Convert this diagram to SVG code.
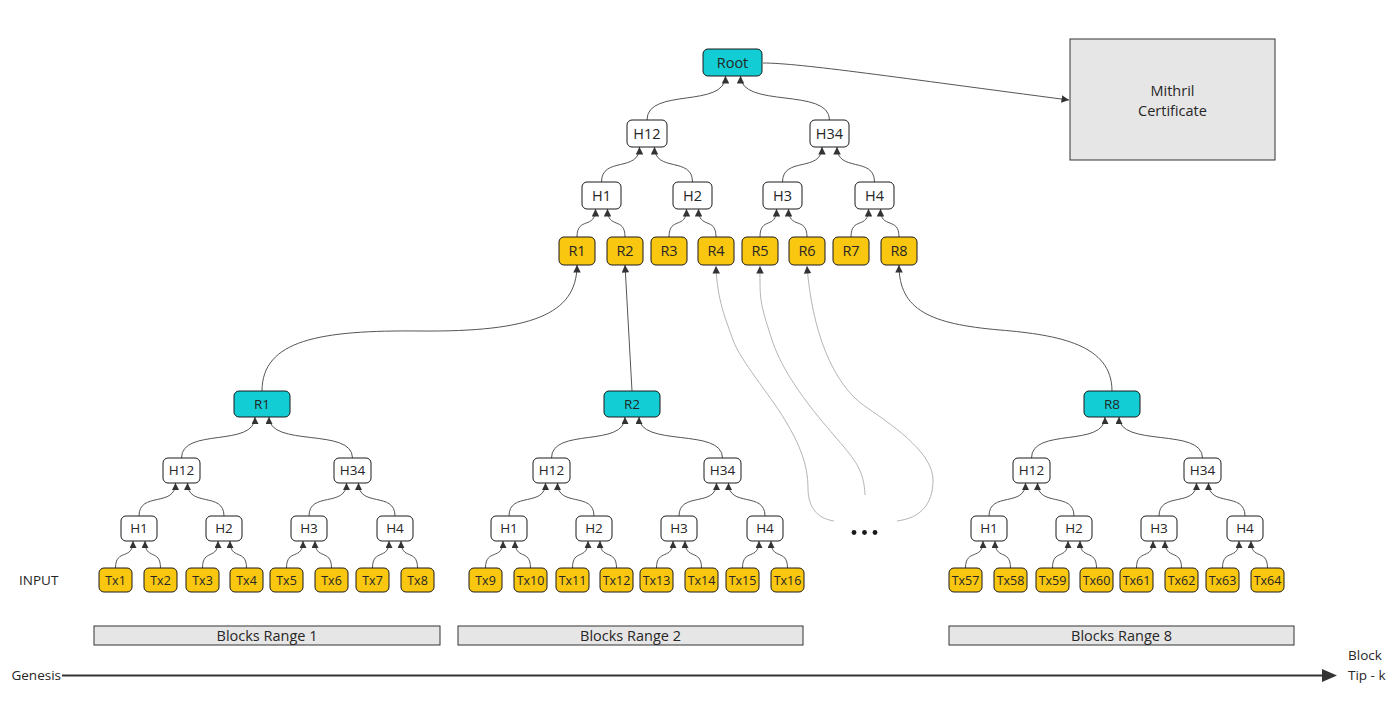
<svg xmlns="http://www.w3.org/2000/svg" width="1395" height="716" viewBox="0 0 1395 716">
<defs>
<style>
.cy{fill:#12CDD4;stroke:#1a1a1a;stroke-width:1}
.yl{fill:#FAC710;stroke:#1a1a1a;stroke-width:1}
.wh{fill:#ffffff;stroke:#1a1a1a;stroke-width:1}
.gr{fill:#e6e6e6;stroke:#333;stroke-width:1}
text{font-family:"Open Sans","Liberation Sans",sans-serif;fill:#262626}
.t14{font-size:14.5px;text-anchor:middle}
.t13{font-size:13.5px;text-anchor:middle}
.t12{font-size:12.5px;text-anchor:middle}
.tb{font-size:14.5px;text-anchor:middle}
.lb{font-size:13.5px}
.c{fill:none;stroke:#555;stroke-width:1;marker-end:url(#ah)}
.cs{fill:none;stroke:#555;stroke-width:1;marker-end:url(#ahs)}
.cg{fill:none;stroke:#b5b5b5;stroke-width:1;marker-end:url(#ah)}
</style>
<marker id="ah" viewBox="0 0 10 10" refX="10" refY="5" markerWidth="8" markerHeight="7.5" markerUnits="userSpaceOnUse" orient="auto"><path d="M0,0 L10,5 L0,10 z" fill="#333"/></marker>
<marker id="ahs" viewBox="0 0 10 10" refX="10" refY="5" markerWidth="7.5" markerHeight="7" markerUnits="userSpaceOnUse" orient="auto"><path d="M0,0 L10,5 L0,10 z" fill="#333"/></marker>
</defs>
<rect width="1395" height="716" fill="#ffffff"/>

<g id="connectors">
<!-- top tree -->
<path class="c" d="M647,120 C647,87 725.5,109 725.5,76"/>
<path class="c" d="M829.5,120 C829.5,87 740.5,109 740.5,76"/>
<path class="c" d="M601.5,182 C601.5,156 639.5,173 639.5,147"/>
<path class="c" d="M692.5,182 C692.5,156 654.5,173 654.5,147"/>
<path class="c" d="M782.5,182 C782.5,156 822,173 822,147"/>
<path class="c" d="M874.5,182 C874.5,156 837,173 837,147"/>
<path class="c" d="M577,237 C577,216 595.5,230 595.5,209"/>
<path class="c" d="M625,237 C625,216 607.5,230 607.5,209"/>
<path class="c" d="M669,237 C669,216 686.5,230 686.5,209"/>
<path class="c" d="M716,237 C716,216 698.5,230 698.5,209"/>
<path class="c" d="M760,237 C760,216 776.5,230 776.5,209"/>
<path class="c" d="M807,237 C807,216 788.5,230 788.5,209"/>
<path class="c" d="M851,237 C851,216 868.5,230 868.5,209"/>
<path class="c" d="M899,237 C899,216 880.5,230 880.5,209"/>
<path class="c" d="M763,63 C800,63 900,78 1069,100"/>
<!-- cross connectors -->
<path class="c" d="M262,391 C262,340 320,330 420,331 C530,332 577,315 577,265"/>
<path class="c" d="M632,391 L625,265"/>
<path class="c" d="M1112,391 C1112,345 1060,335 1000,330 C930,324 899,310 899,265"/>
<path class="cg" d="M834,521 C815,518 808,505 808,488 C808,465 800,445 785,420 S740,360 733,340 S717,300 716,266"/>
<path class="cg" d="M865,495 C864,470 855,460 838,440 S785,380 772,340 S760,300 760,266"/>
<path class="cg" d="M897,521 C920,518 933,505 933,480 S900,430 866,407 S812,330 807,266"/>
<!-- tree 1 -->
<path class="cs" d="M181.5,458 C181.5,427 255,448 255,417"/>
<path class="cs" d="M352.5,458 C352.5,427 269,448 269,417"/>
<path class="cs" d="M139,516 C139,491 175.5,508 175.5,483"/>
<path class="cs" d="M224,516 C224,491 187.5,508 187.5,483"/>
<path class="cs" d="M309,516 C309,491 346.5,508 346.5,483"/>
<path class="cs" d="M395,516 C395,491 358.5,508 358.5,483"/>
<path class="cs" d="M115.5,568 C115.5,548 133,561 133,541"/>
<path class="cs" d="M160.5,568 C160.5,548 145,561 145,541"/>
<path class="cs" d="M202.5,568 C202.5,548 218,561 218,541"/>
<path class="cs" d="M246.5,568 C246.5,548 230,561 230,541"/>
<path class="cs" d="M286.5,568 C286.5,548 303,561 303,541"/>
<path class="cs" d="M331.5,568 C331.5,548 315,561 315,541"/>
<path class="cs" d="M372.5,568 C372.5,548 389,561 389,541"/>
<path class="cs" d="M417.5,568 C417.5,548 401,561 401,541"/>
<!-- tree 2 -->
<path class="cs" d="M551.5,458 C551.5,427 625,448 625,417"/>
<path class="cs" d="M722.5,458 C722.5,427 639,448 639,417"/>
<path class="cs" d="M509,516 C509,491 545.5,508 545.5,483"/>
<path class="cs" d="M594,516 C594,491 557.5,508 557.5,483"/>
<path class="cs" d="M679,516 C679,491 716.5,508 716.5,483"/>
<path class="cs" d="M765,516 C765,491 728.5,508 728.5,483"/>
<path class="cs" d="M485.5,568 C485.5,548 503,561 503,541"/>
<path class="cs" d="M530.5,568 C530.5,548 515,561 515,541"/>
<path class="cs" d="M572.5,568 C572.5,548 588,561 588,541"/>
<path class="cs" d="M616.5,568 C616.5,548 600,561 600,541"/>
<path class="cs" d="M656.5,568 C656.5,548 673,561 673,541"/>
<path class="cs" d="M701.5,568 C701.5,548 685,561 685,541"/>
<path class="cs" d="M742.5,568 C742.5,548 759,561 759,541"/>
<path class="cs" d="M787.5,568 C787.5,548 771,561 771,541"/>
<!-- tree 3 -->
<path class="cs" d="M1031.5,458 C1031.5,427 1105,448 1105,417"/>
<path class="cs" d="M1202.5,458 C1202.5,427 1119,448 1119,417"/>
<path class="cs" d="M989,516 C989,491 1025.5,508 1025.5,483"/>
<path class="cs" d="M1074,516 C1074,491 1037.5,508 1037.5,483"/>
<path class="cs" d="M1159,516 C1159,491 1196.5,508 1196.5,483"/>
<path class="cs" d="M1245,516 C1245,491 1208.5,508 1208.5,483"/>
<path class="cs" d="M965.5,568 C965.5,548 983,561 983,541"/>
<path class="cs" d="M1010.5,568 C1010.5,548 995,561 995,541"/>
<path class="cs" d="M1052.5,568 C1052.5,548 1068,561 1068,541"/>
<path class="cs" d="M1096.5,568 C1096.5,548 1080,561 1080,541"/>
<path class="cs" d="M1136.5,568 C1136.5,548 1153,561 1153,541"/>
<path class="cs" d="M1181.5,568 C1181.5,548 1165,561 1165,541"/>
<path class="cs" d="M1222.5,568 C1222.5,548 1239,561 1239,541"/>
<path class="cs" d="M1267.5,568 C1267.5,548 1251,561 1251,541"/>
<!-- timeline -->
<line x1="62" y1="675.5" x2="1324" y2="675.5" stroke="#333" stroke-width="2"/>
<path d="M1322,669 L1337,675.5 L1322,682 z" fill="#333"/>
</g>

<!-- top tree -->
<g id="root"><rect class="cy" x="703" y="49" width="59" height="27" rx="5"/><text class="t14" x="732.5" y="67.5">Root</text></g>
<g id="mithril"><rect class="gr" x="1070" y="39" width="205" height="121"/><text class="t14" x="1172.5" y="96">Mithril</text><text class="t14" x="1172.5" y="116">Certificate</text></g>
<g id="top-h12"><rect class="wh" x="627" y="120" width="40" height="27" rx="5"/><text class="t14" x="647" y="138.5">H12</text></g>
<g id="top-h34"><rect class="wh" x="810" y="120" width="39" height="27" rx="5"/><text class="t14" x="829.5" y="138.5">H34</text></g>
<g id="top-h1"><rect class="wh" x="582" y="182" width="39" height="27" rx="5"/><text class="t14" x="601.5" y="200.5">H1</text></g>
<g id="top-h2"><rect class="wh" x="673" y="182" width="39" height="27" rx="5"/><text class="t14" x="692.5" y="200.5">H2</text></g>
<g id="top-h3"><rect class="wh" x="763" y="182" width="39" height="27" rx="5"/><text class="t14" x="782.5" y="200.5">H3</text></g>
<g id="top-h4"><rect class="wh" x="855" y="182" width="39" height="27" rx="5"/><text class="t14" x="874.5" y="200.5">H4</text></g>
<g id="top-r1"><rect class="yl" x="559" y="237" width="36" height="28" rx="5"/><text class="t14" x="577" y="256">R1</text></g>
<g id="top-r2"><rect class="yl" x="607" y="237" width="36" height="28" rx="5"/><text class="t14" x="625" y="256">R2</text></g>
<g id="top-r3"><rect class="yl" x="651" y="237" width="36" height="28" rx="5"/><text class="t14" x="669" y="256">R3</text></g>
<g id="top-r4"><rect class="yl" x="698" y="237" width="36" height="28" rx="5"/><text class="t14" x="716" y="256">R4</text></g>
<g id="top-r5"><rect class="yl" x="742" y="237" width="36" height="28" rx="5"/><text class="t14" x="760" y="256">R5</text></g>
<g id="top-r6"><rect class="yl" x="789" y="237" width="36" height="28" rx="5"/><text class="t14" x="807" y="256">R6</text></g>
<g id="top-r7"><rect class="yl" x="833" y="237" width="36" height="28" rx="5"/><text class="t14" x="851" y="256">R7</text></g>
<g id="top-r8"><rect class="yl" x="881" y="237" width="36" height="28" rx="5"/><text class="t14" x="899" y="256">R8</text></g>

<!-- tree 1 -->
<g id="t1-r1"><rect class="cy" x="234" y="391" width="56" height="26" rx="5"/><text class="t13" x="262" y="408.5">R1</text></g>
<g id="t1-h12"><rect class="wh" x="163" y="458" width="37" height="25" rx="5"/><text class="t13" x="181.5" y="475">H12</text></g>
<g id="t1-h34"><rect class="wh" x="334" y="458" width="37" height="25" rx="5"/><text class="t13" x="352.5" y="475">H34</text></g>
<g id="t1-h1"><rect class="wh" x="121" y="516" width="36" height="25" rx="5"/><text class="t13" x="139" y="533">H1</text></g>
<g id="t1-h2"><rect class="wh" x="206" y="516" width="36" height="25" rx="5"/><text class="t13" x="224" y="533">H2</text></g>
<g id="t1-h3"><rect class="wh" x="291" y="516" width="36" height="25" rx="5"/><text class="t13" x="309" y="533">H3</text></g>
<g id="t1-h4"><rect class="wh" x="377" y="516" width="36" height="25" rx="5"/><text class="t13" x="395" y="533">H4</text></g>
<g id="tx1"><rect class="yl" x="99" y="568" width="33" height="24" rx="5"/><text class="t12" x="115.5" y="584.5">Tx1</text></g>
<g id="tx2"><rect class="yl" x="144" y="568" width="33" height="24" rx="5"/><text class="t12" x="160.5" y="584.5">Tx2</text></g>
<g id="tx3"><rect class="yl" x="186" y="568" width="33" height="24" rx="5"/><text class="t12" x="202.5" y="584.5">Tx3</text></g>
<g id="tx4"><rect class="yl" x="230" y="568" width="33" height="24" rx="5"/><text class="t12" x="246.5" y="584.5">Tx4</text></g>
<g id="tx5"><rect class="yl" x="270" y="568" width="33" height="24" rx="5"/><text class="t12" x="286.5" y="584.5">Tx5</text></g>
<g id="tx6"><rect class="yl" x="315" y="568" width="33" height="24" rx="5"/><text class="t12" x="331.5" y="584.5">Tx6</text></g>
<g id="tx7"><rect class="yl" x="356" y="568" width="33" height="24" rx="5"/><text class="t12" x="372.5" y="584.5">Tx7</text></g>
<g id="tx8"><rect class="yl" x="401" y="568" width="33" height="24" rx="5"/><text class="t12" x="417.5" y="584.5">Tx8</text></g>

<!-- tree 2 -->
<g id="t2-r2"><rect class="cy" x="604" y="391" width="56" height="26" rx="5"/><text class="t13" x="632" y="408.5">R2</text></g>
<g id="t2-h12"><rect class="wh" x="533" y="458" width="37" height="25" rx="5"/><text class="t13" x="551.5" y="475">H12</text></g>
<g id="t2-h34"><rect class="wh" x="704" y="458" width="37" height="25" rx="5"/><text class="t13" x="722.5" y="475">H34</text></g>
<g id="t2-h1"><rect class="wh" x="491" y="516" width="36" height="25" rx="5"/><text class="t13" x="509" y="533">H1</text></g>
<g id="t2-h2"><rect class="wh" x="576" y="516" width="36" height="25" rx="5"/><text class="t13" x="594" y="533">H2</text></g>
<g id="t2-h3"><rect class="wh" x="661" y="516" width="36" height="25" rx="5"/><text class="t13" x="679" y="533">H3</text></g>
<g id="t2-h4"><rect class="wh" x="747" y="516" width="36" height="25" rx="5"/><text class="t13" x="765" y="533">H4</text></g>
<g id="tx9"><rect class="yl" x="469" y="568" width="33" height="24" rx="5"/><text class="t12" x="485.5" y="584.5">Tx9</text></g>
<g id="tx10"><rect class="yl" x="514" y="568" width="33" height="24" rx="5"/><text class="t12" x="530.5" y="584.5">Tx10</text></g>
<g id="tx11"><rect class="yl" x="556" y="568" width="33" height="24" rx="5"/><text class="t12" x="572.5" y="584.5">Tx11</text></g>
<g id="tx12"><rect class="yl" x="600" y="568" width="33" height="24" rx="5"/><text class="t12" x="616.5" y="584.5">Tx12</text></g>
<g id="tx13"><rect class="yl" x="640" y="568" width="33" height="24" rx="5"/><text class="t12" x="656.5" y="584.5">Tx13</text></g>
<g id="tx14"><rect class="yl" x="685" y="568" width="33" height="24" rx="5"/><text class="t12" x="701.5" y="584.5">Tx14</text></g>
<g id="tx15"><rect class="yl" x="726" y="568" width="33" height="24" rx="5"/><text class="t12" x="742.5" y="584.5">Tx15</text></g>
<g id="tx16"><rect class="yl" x="771" y="568" width="33" height="24" rx="5"/><text class="t12" x="787.5" y="584.5">Tx16</text></g>

<!-- tree 3 -->
<g id="t3-r8"><rect class="cy" x="1084" y="391" width="56" height="26" rx="5"/><text class="t13" x="1112" y="408.5">R8</text></g>
<g id="t3-h12"><rect class="wh" x="1013" y="458" width="37" height="25" rx="5"/><text class="t13" x="1031.5" y="475">H12</text></g>
<g id="t3-h34"><rect class="wh" x="1184" y="458" width="37" height="25" rx="5"/><text class="t13" x="1202.5" y="475">H34</text></g>
<g id="t3-h1"><rect class="wh" x="971" y="516" width="36" height="25" rx="5"/><text class="t13" x="989" y="533">H1</text></g>
<g id="t3-h2"><rect class="wh" x="1056" y="516" width="36" height="25" rx="5"/><text class="t13" x="1074" y="533">H2</text></g>
<g id="t3-h3"><rect class="wh" x="1141" y="516" width="36" height="25" rx="5"/><text class="t13" x="1159" y="533">H3</text></g>
<g id="t3-h4"><rect class="wh" x="1227" y="516" width="36" height="25" rx="5"/><text class="t13" x="1245" y="533">H4</text></g>
<g id="tx57"><rect class="yl" x="949" y="568" width="33" height="24" rx="5"/><text class="t12" x="965.5" y="584.5">Tx57</text></g>
<g id="tx58"><rect class="yl" x="994" y="568" width="33" height="24" rx="5"/><text class="t12" x="1010.5" y="584.5">Tx58</text></g>
<g id="tx59"><rect class="yl" x="1036" y="568" width="33" height="24" rx="5"/><text class="t12" x="1052.5" y="584.5">Tx59</text></g>
<g id="tx60"><rect class="yl" x="1080" y="568" width="33" height="24" rx="5"/><text class="t12" x="1096.5" y="584.5">Tx60</text></g>
<g id="tx61"><rect class="yl" x="1120" y="568" width="33" height="24" rx="5"/><text class="t12" x="1136.5" y="584.5">Tx61</text></g>
<g id="tx62"><rect class="yl" x="1165" y="568" width="33" height="24" rx="5"/><text class="t12" x="1181.5" y="584.5">Tx62</text></g>
<g id="tx63"><rect class="yl" x="1206" y="568" width="33" height="24" rx="5"/><text class="t12" x="1222.5" y="584.5">Tx63</text></g>
<g id="tx64"><rect class="yl" x="1251" y="568" width="33" height="24" rx="5"/><text class="t12" x="1267.5" y="584.5">Tx64</text></g>

<!-- ellipsis -->
<g id="ellipsis" fill="#1a1a1a"><circle cx="854" cy="532.5" r="2.4"/><circle cx="864.5" cy="532.5" r="2.4"/><circle cx="875" cy="532.5" r="2.4"/></g>

<!-- block ranges -->
<g id="range1"><rect class="gr" x="94" y="626" width="346" height="19"/><text class="tb" x="267" y="641">Blocks Range 1</text></g>
<g id="range2"><rect class="gr" x="458" y="626" width="345" height="19"/><text class="tb" x="630.5" y="641">Blocks Range 2</text></g>
<g id="range8"><rect class="gr" x="949" y="626" width="345" height="19"/><text class="tb" x="1121.5" y="641">Blocks Range 8</text></g>

<g id="labels">
<text class="lb" x="19" y="585">INPUT</text>
<text class="lb" x="61" y="680" text-anchor="end">Genesis</text>
<text class="lb" x="1348" y="660">Block</text>
<text class="lb" x="1348" y="680">Tip - k</text>
</g>
</svg>
